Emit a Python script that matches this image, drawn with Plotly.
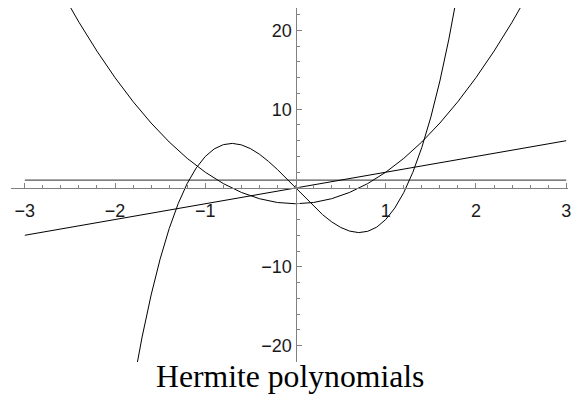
import plotly.graph_objects as go

# Sample points of the first four (physicists') Hermite polynomials
x_h0 = [-3, 3]
h0 = [1, 1]

x_h1 = [-3, 3]
h1 = [-6, 6]

x_h2 = [-2.6, -2.4, -2.2, -2.0, -1.8, -1.6, -1.4, -1.2, -1.0, -0.8, -0.6, -0.4, -0.2, 0.0,
        0.2, 0.4, 0.6, 0.8, 1.0, 1.2, 1.4, 1.6, 1.8, 2.0, 2.2, 2.4, 2.6]
h2 = [25.04, 21.04, 17.36, 14.0, 10.96, 8.24, 5.84, 3.76, 2.0, 0.56, -0.56, -1.36, -1.84, -2.0,
      -1.84, -1.36, -0.56, 0.56, 2.0, 3.76, 5.84, 8.24, 10.96, 14.0, 17.36, 21.04, 25.04]

x_h3 = [-1.8, -1.7, -1.6, -1.5, -1.4, -1.3, -1.2, -1.1, -1.0, -0.9, -0.8, -0.7, -0.6, -0.5,
        -0.4, -0.3, -0.2, -0.1, 0.0, 0.1, 0.2, 0.3, 0.4, 0.5, 0.6, 0.7, 0.8, 0.9, 1.0,
        1.1, 1.2, 1.3, 1.4, 1.5, 1.6, 1.7, 1.8]
h3 = [-25.06, -18.90, -13.57, -9.0, -5.15, -1.98, 0.58, 2.55, 4.0, 4.97, 5.50, 5.66, 5.47, 5.0,
      4.29, 3.38, 2.34, 1.19, 0.0, -1.19, -2.34, -3.38, -4.29, -5.0, -5.47, -5.66, -5.50, -4.97, -4.0,
      -2.55, -0.58, 1.98, 5.15, 9.0, 13.57, 18.90, 25.06]

x_tickvals = [-3, -2, -1, 1, 2, 3]
x_ticktext = ["\u22123", "\u22122", "\u22121", "1", "2", "3"]
y_tickvals = [-20, -10, 10, 20]
y_ticktext = ["\u221220", "\u221210", "10", "20"]

title_text = "Hermite polynomials"

X_RANGE = [-3.153, 3.02]
Y_RANGE = [-22.08, 22.84]

fig = go.Figure()
curve = dict(color="black", width=1.0)
fig.add_trace(go.Scatter(x=x_h0, y=h0, mode="lines", line=dict(color="#555555", width=1.1)))
fig.add_trace(go.Scatter(x=x_h1, y=h1, mode="lines", line=curve))
fig.add_trace(go.Scatter(x=x_h2, y=h2, mode="lines", line=curve))
fig.add_trace(go.Scatter(x=x_h3, y=h3, mode="lines", line=curve))

axis_grey = "#808080"
tick_font = dict(family="Liberation Sans, Arial, sans-serif", size=18, color="#1a1a1a")

x_pos = (0 - Y_RANGE[0]) / (Y_RANGE[1] - Y_RANGE[0])
y_pos = (0 - X_RANGE[0]) / (X_RANGE[1] - X_RANGE[0])

fig.update_layout(
    width=575, height=394,
    margin=dict(l=11, r=4, t=8, b=32),
    paper_bgcolor="white", plot_bgcolor="white",
    showlegend=False,
    xaxis=dict(
        range=X_RANGE, anchor="free", position=x_pos,
        showgrid=False, zeroline=False,
        showline=True, linecolor=axis_grey, linewidth=1.2,
        tickmode="array", tickvals=x_tickvals, ticktext=x_ticktext,
        ticks="inside", ticklen=5, tickwidth=1, tickcolor=axis_grey,
        ticklabelstandoff=6,
        minor=dict(tickmode="linear", tick0=0, dtick=0.2, ticks="inside",
                   ticklen=3, tickwidth=1, tickcolor=axis_grey),
        tickfont=tick_font,
    ),
    yaxis=dict(
        range=Y_RANGE, anchor="free", position=y_pos,
        showgrid=False, zeroline=False,
        showline=True, linecolor=axis_grey, linewidth=1.2,
        tickmode="array", tickvals=y_tickvals, ticktext=y_ticktext,
        ticks="inside", ticklen=5, tickwidth=1, tickcolor=axis_grey,
        minor=dict(tickmode="linear", tick0=0, dtick=2, ticks="inside",
                   ticklen=3, tickwidth=1, tickcolor=axis_grey),
        tickfont=tick_font,
    ),
    annotations=[dict(
        text=title_text, xref="paper", yref="paper",
        x=0.5, y=-0.042, xanchor="center", yanchor="middle",
        showarrow=False,
        font=dict(family="Liberation Serif, Times New Roman, serif", size=31.7, color="black"),
    )],
)

fig.write_html("out.html")
